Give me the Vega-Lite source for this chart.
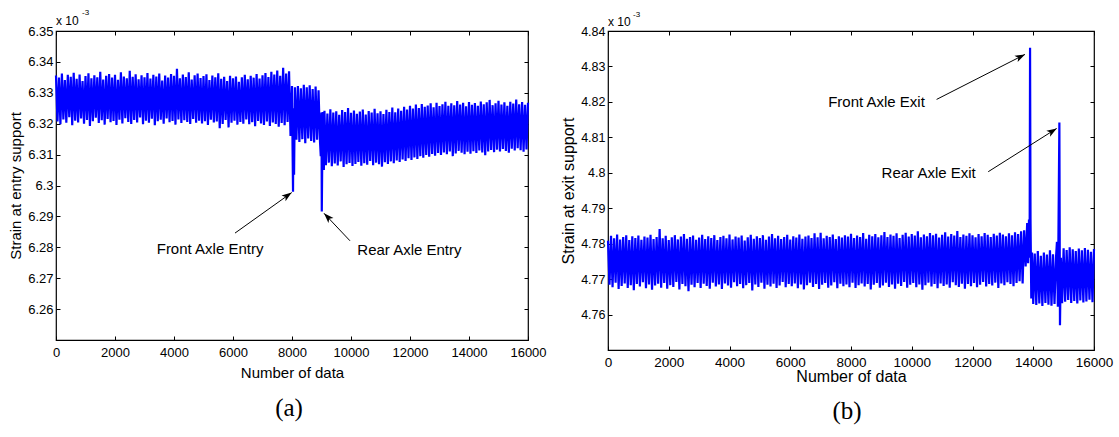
{
"$schema": "https://vega.github.io/schema/vega-lite/v6.json",
"background": "white",
"padding": {"left": 8, "top": 8, "right": 5, "bottom": 5},
"config": {
  "font": "Liberation Sans",
  "view": {"stroke": "black", "strokeWidth": 1.2},
  "axis": {"domain": false, "grid": false, "tickColor": "black", "tickSize": -4, "tickWidth": 1, "labelColor": "black", "titleColor": "black", "titleFontWeight": "normal", "labelFlush": false, "labelOverlap": false}
},
"spacing": 80,
"bounds": "flush",
"datasets": {
"a": [
{"n":0,"v":6.3356},{"n":50,"v":6.3207},{"n":100,"v":6.3349},{"n":150,"v":6.3198},{"n":200,"v":6.3362},{"n":250,"v":6.3214},{"n":300,"v":6.3341},{"n":350,"v":6.3203},{"n":400,"v":6.3358},{"n":450,"v":6.3221},
{"n":500,"v":6.3352},{"n":550,"v":6.3195},{"n":600,"v":6.3365},{"n":650,"v":6.3210},{"n":700,"v":6.3345},{"n":750,"v":6.3204},{"n":800,"v":6.3359},{"n":850,"v":6.3217},{"n":900,"v":6.3338},{"n":950,"v":6.3200},
{"n":1000,"v":6.3354},{"n":1050,"v":6.3212},{"n":1100,"v":6.3363},{"n":1150,"v":6.3193},{"n":1200,"v":6.3347},{"n":1250,"v":6.3208},{"n":1300,"v":6.3357},{"n":1350,"v":6.3219},{"n":1400,"v":6.3350},{"n":1450,"v":6.3202},
{"n":1500,"v":6.3368},{"n":1550,"v":6.3211},{"n":1600,"v":6.3343},{"n":1650,"v":6.3197},{"n":1700,"v":6.3355},{"n":1750,"v":6.3215},{"n":1800,"v":6.3361},{"n":1850,"v":6.3205},{"n":1900,"v":6.3349},{"n":1950,"v":6.3209},
{"n":2000,"v":6.3358},{"n":2050,"v":6.3196},{"n":2100,"v":6.3342},{"n":2150,"v":6.3213},{"n":2200,"v":6.3366},{"n":2250,"v":6.3201},{"n":2300,"v":6.3353},{"n":2350,"v":6.3218},{"n":2400,"v":6.3347},{"n":2450,"v":6.3206},
{"n":2500,"v":6.3371},{"n":2550,"v":6.3199},{"n":2600,"v":6.3352},{"n":2650,"v":6.3212},{"n":2700,"v":6.3360},{"n":2750,"v":6.3204},{"n":2800,"v":6.3344},{"n":2850,"v":6.3220},{"n":2900,"v":6.3357},{"n":2950,"v":6.3198},
{"n":3000,"v":6.3350},{"n":3050,"v":6.3210},{"n":3100,"v":6.3364},{"n":3150,"v":6.3203},{"n":3200,"v":6.3346},{"n":3250,"v":6.3216},{"n":3300,"v":6.3358},{"n":3350,"v":6.3195},{"n":3400,"v":6.3353},{"n":3450,"v":6.3208},
{"n":3500,"v":6.3362},{"n":3550,"v":6.3213},{"n":3600,"v":6.3340},{"n":3650,"v":6.3200},{"n":3700,"v":6.3356},{"n":3750,"v":6.3217},{"n":3800,"v":6.3349},{"n":3850,"v":6.3205},{"n":3900,"v":6.3361},{"n":3950,"v":6.3209},
{"n":4000,"v":6.3355},{"n":4050,"v":6.3197},{"n":4100,"v":6.3378},{"n":4150,"v":6.3214},{"n":4200,"v":6.3347},{"n":4250,"v":6.3202},{"n":4300,"v":6.3359},{"n":4350,"v":6.3211},{"n":4400,"v":6.3351},{"n":4450,"v":6.3206},
{"n":4500,"v":6.3366},{"n":4550,"v":6.3199},{"n":4600,"v":6.3343},{"n":4650,"v":6.3215},{"n":4700,"v":6.3357},{"n":4750,"v":6.3203},{"n":4800,"v":6.3362},{"n":4850,"v":6.3210},{"n":4900,"v":6.3348},{"n":4950,"v":6.3201},
{"n":5000,"v":6.3354},{"n":5050,"v":6.3208},{"n":5100,"v":6.3360},{"n":5150,"v":6.3196},{"n":5200,"v":6.3341},{"n":5250,"v":6.3213},{"n":5300,"v":6.3356},{"n":5350,"v":6.3204},{"n":5400,"v":6.3350},{"n":5450,"v":6.3207},
{"n":5500,"v":6.3363},{"n":5550,"v":6.3185},{"n":5600,"v":6.3345},{"n":5650,"v":6.3199},{"n":5700,"v":6.3352},{"n":5750,"v":6.3212},{"n":5800,"v":6.3338},{"n":5850,"v":6.3188},{"n":5900,"v":6.3355},{"n":5950,"v":6.3203},
{"n":6000,"v":6.3347},{"n":6050,"v":6.3210},{"n":6100,"v":6.3353},{"n":6150,"v":6.3197},{"n":6200,"v":6.3336},{"n":6250,"v":6.3206},{"n":6300,"v":6.3350},{"n":6350,"v":6.3200},{"n":6400,"v":6.3358},{"n":6450,"v":6.3214},
{"n":6500,"v":6.3344},{"n":6550,"v":6.3198},{"n":6600,"v":6.3355},{"n":6650,"v":6.3205},{"n":6700,"v":6.3349},{"n":6750,"v":6.3192},{"n":6800,"v":6.3361},{"n":6850,"v":6.3209},{"n":6900,"v":6.3346},{"n":6950,"v":6.3201},
{"n":7000,"v":6.3357},{"n":7050,"v":6.3196},{"n":7100,"v":6.3364},{"n":7150,"v":6.3207},{"n":7200,"v":6.3351},{"n":7250,"v":6.3193},{"n":7300,"v":6.3368},{"n":7350,"v":6.3204},{"n":7400,"v":6.3359},{"n":7450,"v":6.3199},
{"n":7500,"v":6.3372},{"n":7550,"v":6.3190},{"n":7600,"v":6.3355},{"n":7650,"v":6.3202},{"n":7700,"v":6.3381},{"n":7750,"v":6.3195},{"n":7800,"v":6.3362},{"n":7850,"v":6.3206},{"n":7900,"v":6.3370},
{"n":7950,"v":6.3160},{"n":8000,"v":6.3322},{"n":8020,"v":6.3115},{"n":8035,"v":6.2980},{"n":8050,"v":6.3250},{"n":8070,"v":6.3035},{"n":8100,"v":6.3318},{"n":8150,"v":6.3148},
{"n":8200,"v":6.3322},{"n":8250,"v":6.3141},{"n":8300,"v":6.3315},{"n":8350,"v":6.3150},{"n":8400,"v":6.3326},{"n":8450,"v":6.3137},{"n":8500,"v":6.3318},{"n":8550,"v":6.3152},{"n":8600,"v":6.3324},{"n":8650,"v":6.3144},
{"n":8700,"v":6.3312},{"n":8750,"v":6.3139},{"n":8800,"v":6.3320},{"n":8850,"v":6.3148},{"n":8900,"v":6.3308},{"n":8950,"v":6.3140},{"n":8975,"v":6.3095},{"n":9000,"v":6.3236},{"n":9010,"v":6.2916},{"n":9040,"v":6.3238},{"n":9080,"v":6.3050},
{"n":9100,"v":6.3242},{"n":9150,"v":6.3066},{"n":9200,"v":6.3233},{"n":9250,"v":6.3074},{"n":9300,"v":6.3247},{"n":9350,"v":6.3062},{"n":9400,"v":6.3236},{"n":9450,"v":6.3071},{"n":9500,"v":6.3240},{"n":9550,"v":6.3065},
{"n":9600,"v":6.3229},{"n":9650,"v":6.3078},{"n":9700,"v":6.3244},{"n":9750,"v":6.3060},{"n":9800,"v":6.3238},{"n":9850,"v":6.3069},{"n":9900,"v":6.3251},{"n":9950,"v":6.3073},{"n":10000,"v":6.3235},{"n":10050,"v":6.3063},
{"n":10100,"v":6.3243},{"n":10150,"v":6.3070},{"n":10200,"v":6.3232},{"n":10250,"v":6.3076},{"n":10300,"v":6.3239},{"n":10350,"v":6.3064},{"n":10400,"v":6.3246},{"n":10450,"v":6.3072},{"n":10500,"v":6.3230},{"n":10550,"v":6.3067},
{"n":10600,"v":6.3241},{"n":10650,"v":6.3079},{"n":10700,"v":6.3236},{"n":10750,"v":6.3066},{"n":10800,"v":6.3248},{"n":10850,"v":6.3074},{"n":10900,"v":6.3234},{"n":10950,"v":6.3069},{"n":11000,"v":6.3240},{"n":11050,"v":6.3061},
{"n":11100,"v":6.3231},{"n":11150,"v":6.3075},{"n":11200,"v":6.3245},{"n":11250,"v":6.3070},{"n":11300,"v":6.3238},{"n":11350,"v":6.3078},{"n":11400,"v":6.3252},{"n":11450,"v":6.3072},{"n":11500,"v":6.3237},{"n":11550,"v":6.3081},
{"n":11600,"v":6.3249},{"n":11650,"v":6.3076},{"n":11700,"v":6.3242},{"n":11750,"v":6.3084},{"n":11800,"v":6.3255},{"n":11850,"v":6.3079},{"n":11900,"v":6.3246},{"n":11950,"v":6.3088},{"n":12000,"v":6.3258},{"n":12050,"v":6.3083},
{"n":12100,"v":6.3249},{"n":12150,"v":6.3091},{"n":12200,"v":6.3262},{"n":12250,"v":6.3086},{"n":12300,"v":6.3251},{"n":12350,"v":6.3095},{"n":12400,"v":6.3264},{"n":12450,"v":6.3090},{"n":12500,"v":6.3255},{"n":12550,"v":6.3099},
{"n":12600,"v":6.3259},{"n":12650,"v":6.3093},{"n":12700,"v":6.3266},{"n":12750,"v":6.3102},{"n":12800,"v":6.3253},{"n":12850,"v":6.3096},{"n":12900,"v":6.3268},{"n":12950,"v":6.3105},{"n":13000,"v":6.3257},{"n":13050,"v":6.3099},
{"n":13100,"v":6.3263},{"n":13150,"v":6.3107},{"n":13200,"v":6.3271},{"n":13250,"v":6.3101},{"n":13300,"v":6.3258},{"n":13350,"v":6.3110},{"n":13400,"v":6.3266},{"n":13450,"v":6.3095},{"n":13500,"v":6.3260},{"n":13550,"v":6.3104},
{"n":13600,"v":6.3273},{"n":13650,"v":6.3112},{"n":13700,"v":6.3262},{"n":13750,"v":6.3106},{"n":13800,"v":6.3268},{"n":13850,"v":6.3101},{"n":13900,"v":6.3256},{"n":13950,"v":6.3109},{"n":14000,"v":6.3270},{"n":14050,"v":6.3103},
{"n":14100,"v":6.3261},{"n":14150,"v":6.3111},{"n":14200,"v":6.3267},{"n":14250,"v":6.3105},{"n":14300,"v":6.3258},{"n":14350,"v":6.3113},{"n":14400,"v":6.3272},{"n":14450,"v":6.3107},{"n":14500,"v":6.3263},{"n":14550,"v":6.3098},
{"n":14600,"v":6.3269},{"n":14650,"v":6.3110},{"n":14700,"v":6.3277},{"n":14750,"v":6.3115},{"n":14800,"v":6.3260},{"n":14850,"v":6.3108},{"n":14900,"v":6.3266},{"n":14950,"v":6.3116},{"n":15000,"v":6.3274},{"n":15050,"v":6.3110},
{"n":15100,"v":6.3262},{"n":15150,"v":6.3118},{"n":15200,"v":6.3269},{"n":15250,"v":6.3112},{"n":15300,"v":6.3258},{"n":15350,"v":6.3106},{"n":15400,"v":6.3271},{"n":15450,"v":6.3119},{"n":15500,"v":6.3265},{"n":15550,"v":6.3113},
{"n":15600,"v":6.3278},{"n":15650,"v":6.3121},{"n":15700,"v":6.3263},{"n":15750,"v":6.3114},{"n":15800,"v":6.3270},{"n":15850,"v":6.3109},{"n":15900,"v":6.3261},{"n":15950,"v":6.3117},{"n":16000,"v":6.3268}
],
"b": [
{"n":0,"v":4.7808},{"n":50,"v":4.7684},{"n":100,"v":4.7822},{"n":150,"v":4.7677},{"n":200,"v":4.7815},{"n":250,"v":4.7690},{"n":300,"v":4.7826},{"n":350,"v":4.7672},{"n":400,"v":4.7812},{"n":450,"v":4.7681},
{"n":500,"v":4.7819},{"n":550,"v":4.7688},{"n":600,"v":4.7824},{"n":650,"v":4.7675},{"n":700,"v":4.7810},{"n":750,"v":4.7683},{"n":800,"v":4.7821},{"n":850,"v":4.7669},{"n":900,"v":4.7816},{"n":950,"v":4.7686},
{"n":1000,"v":4.7823},{"n":1050,"v":4.7679},{"n":1100,"v":4.7811},{"n":1150,"v":4.7691},{"n":1200,"v":4.7820},{"n":1250,"v":4.7674},{"n":1300,"v":4.7817},{"n":1350,"v":4.7685},{"n":1400,"v":4.7825},{"n":1450,"v":4.7670},
{"n":1500,"v":4.7813},{"n":1550,"v":4.7682},{"n":1600,"v":4.7819},{"n":1650,"v":4.7687},{"n":1700,"v":4.7841},{"n":1750,"v":4.7676},{"n":1800,"v":4.7815},{"n":1850,"v":4.7689},{"n":1900,"v":4.7822},{"n":1950,"v":4.7673},
{"n":2000,"v":4.7810},{"n":2050,"v":4.7683},{"n":2100,"v":4.7818},{"n":2150,"v":4.7678},{"n":2200,"v":4.7824},{"n":2250,"v":4.7692},{"n":2300,"v":4.7812},{"n":2350,"v":4.7671},{"n":2400,"v":4.7820},{"n":2450,"v":4.7686},
{"n":2500,"v":4.7827},{"n":2550,"v":4.7680},{"n":2600,"v":4.7814},{"n":2650,"v":4.7666},{"n":2700,"v":4.7819},{"n":2750,"v":4.7684},{"n":2800,"v":4.7823},{"n":2850,"v":4.7677},{"n":2900,"v":4.7811},{"n":2950,"v":4.7689},
{"n":3000,"v":4.7817},{"n":3050,"v":4.7675},{"n":3100,"v":4.7825},{"n":3150,"v":4.7687},{"n":3200,"v":4.7813},{"n":3250,"v":4.7681},{"n":3300,"v":4.7821},{"n":3350,"v":4.7673},{"n":3400,"v":4.7816},{"n":3450,"v":4.7690},
{"n":3500,"v":4.7824},{"n":3550,"v":4.7679},{"n":3600,"v":4.7810},{"n":3650,"v":4.7685},{"n":3700,"v":4.7819},{"n":3750,"v":4.7672},{"n":3800,"v":4.7822},{"n":3850,"v":4.7688},{"n":3900,"v":4.7815},{"n":3950,"v":4.7682},
{"n":4000,"v":4.7826},{"n":4050,"v":4.7676},{"n":4100,"v":4.7812},{"n":4150,"v":4.7691},{"n":4200,"v":4.7820},{"n":4250,"v":4.7680},{"n":4300,"v":4.7817},{"n":4350,"v":4.7686},{"n":4400,"v":4.7823},{"n":4450,"v":4.7674},
{"n":4500,"v":4.7809},{"n":4550,"v":4.7683},{"n":4600,"v":4.7818},{"n":4650,"v":4.7689},{"n":4700,"v":4.7825},{"n":4750,"v":4.7668},{"n":4800,"v":4.7814},{"n":4850,"v":4.7685},{"n":4900,"v":4.7821},{"n":4950,"v":4.7678},
{"n":5000,"v":4.7816},{"n":5050,"v":4.7690},{"n":5100,"v":4.7824},{"n":5150,"v":4.7673},{"n":5200,"v":4.7811},{"n":5250,"v":4.7684},{"n":5300,"v":4.7820},{"n":5350,"v":4.7679},{"n":5400,"v":4.7827},{"n":5450,"v":4.7687},
{"n":5500,"v":4.7815},{"n":5550,"v":4.7675},{"n":5600,"v":4.7822},{"n":5650,"v":4.7682},{"n":5700,"v":4.7813},{"n":5750,"v":4.7692},{"n":5800,"v":4.7819},{"n":5850,"v":4.7677},{"n":5900,"v":4.7825},{"n":5950,"v":4.7686},
{"n":6000,"v":4.7812},{"n":6050,"v":4.7680},{"n":6100,"v":4.7821},{"n":6150,"v":4.7688},{"n":6200,"v":4.7817},{"n":6250,"v":4.7674},{"n":6300,"v":4.7826},{"n":6350,"v":4.7685},{"n":6400,"v":4.7814},{"n":6450,"v":4.7671},
{"n":6500,"v":4.7820},{"n":6550,"v":4.7683},{"n":6600,"v":4.7823},{"n":6650,"v":4.7690},{"n":6700,"v":4.7816},{"n":6750,"v":4.7678},{"n":6800,"v":4.7829},{"n":6850,"v":4.7686},{"n":6900,"v":4.7818},{"n":6950,"v":4.7672},
{"n":7000,"v":4.7831},{"n":7050,"v":4.7684},{"n":7100,"v":4.7815},{"n":7150,"v":4.7689},{"n":7200,"v":4.7822},{"n":7250,"v":4.7676},{"n":7300,"v":4.7819},{"n":7350,"v":4.7682},{"n":7400,"v":4.7826},{"n":7450,"v":4.7691},
{"n":7500,"v":4.7813},{"n":7550,"v":4.7674},{"n":7600,"v":4.7821},{"n":7650,"v":4.7687},{"n":7700,"v":4.7817},{"n":7750,"v":4.7680},{"n":7800,"v":4.7824},{"n":7850,"v":4.7685},{"n":7900,"v":4.7820},{"n":7950,"v":4.7677},
{"n":8000,"v":4.7828},{"n":8050,"v":4.7690},{"n":8100,"v":4.7816},{"n":8150,"v":4.7675},{"n":8200,"v":4.7823},{"n":8250,"v":4.7683},{"n":8300,"v":4.7819},{"n":8350,"v":4.7688},{"n":8400,"v":4.7830},{"n":8450,"v":4.7679},
{"n":8500,"v":4.7814},{"n":8550,"v":4.7686},{"n":8600,"v":4.7825},{"n":8650,"v":4.7671},{"n":8700,"v":4.7821},{"n":8750,"v":4.7684},{"n":8800,"v":4.7827},{"n":8850,"v":4.7689},{"n":8900,"v":4.7818},{"n":8950,"v":4.7676},
{"n":9000,"v":4.7824},{"n":9050,"v":4.7682},{"n":9100,"v":4.7833},{"n":9150,"v":4.7690},{"n":9200,"v":4.7819},{"n":9250,"v":4.7678},{"n":9300,"v":4.7826},{"n":9350,"v":4.7685},{"n":9400,"v":4.7822},{"n":9450,"v":4.7673},
{"n":9500,"v":4.7829},{"n":9550,"v":4.7687},{"n":9600,"v":4.7816},{"n":9650,"v":4.7681},{"n":9700,"v":4.7825},{"n":9750,"v":4.7692},{"n":9800,"v":4.7831},{"n":9850,"v":4.7676},{"n":9900,"v":4.7820},{"n":9950,"v":4.7684},
{"n":10000,"v":4.7827},{"n":10050,"v":4.7689},{"n":10100,"v":4.7823},{"n":10150,"v":4.7677},{"n":10200,"v":4.7835},{"n":10250,"v":4.7685},{"n":10300,"v":4.7818},{"n":10350,"v":4.7670},{"n":10400,"v":4.7826},{"n":10450,"v":4.7683},
{"n":10500,"v":4.7821},{"n":10550,"v":4.7690},{"n":10600,"v":4.7830},{"n":10650,"v":4.7679},{"n":10700,"v":4.7824},{"n":10750,"v":4.7686},{"n":10800,"v":4.7828},{"n":10850,"v":4.7674},{"n":10900,"v":4.7817},{"n":10950,"v":4.7688},
{"n":11000,"v":4.7825},{"n":11050,"v":4.7681},{"n":11100,"v":4.7832},{"n":11150,"v":4.7685},{"n":11200,"v":4.7820},{"n":11250,"v":4.7676},{"n":11300,"v":4.7827},{"n":11350,"v":4.7691},{"n":11400,"v":4.7823},{"n":11450,"v":4.7683},
{"n":11500,"v":4.7836},{"n":11550,"v":4.7678},{"n":11600,"v":4.7819},{"n":11650,"v":4.7687},{"n":11700,"v":4.7826},{"n":11750,"v":4.7673},{"n":11800,"v":4.7822},{"n":11850,"v":4.7686},{"n":11900,"v":4.7829},{"n":11950,"v":4.7680},
{"n":12000,"v":4.7824},{"n":12050,"v":4.7689},{"n":12100,"v":4.7818},{"n":12150,"v":4.7677},{"n":12200,"v":4.7827},{"n":12250,"v":4.7684},{"n":12300,"v":4.7821},{"n":12350,"v":4.7692},{"n":12400,"v":4.7830},{"n":12450,"v":4.7679},
{"n":12500,"v":4.7825},{"n":12550,"v":4.7686},{"n":12600,"v":4.7819},{"n":12650,"v":4.7682},{"n":12700,"v":4.7828},{"n":12750,"v":4.7690},{"n":12800,"v":4.7823},{"n":12850,"v":4.7675},{"n":12900,"v":4.7831},{"n":12950,"v":4.7688},
{"n":13000,"v":4.7826},{"n":13050,"v":4.7683},{"n":13100,"v":4.7821},{"n":13150,"v":4.7691},{"n":13200,"v":4.7829},{"n":13250,"v":4.7686},{"n":13300,"v":4.7824},{"n":13350,"v":4.7680},{"n":13400,"v":4.7832},{"n":13450,"v":4.7689},
{"n":13500,"v":4.7827},{"n":13550,"v":4.7694},{"n":13600,"v":4.7835},{"n":13650,"v":4.7688},{"n":13700,"v":4.7838},{"n":13750,"v":4.7736},
{"n":13800,"v":4.7858},{"n":13830,"v":4.7745},{"n":13860,"v":4.7868},{"n":13880,"v":4.7760},{"n":13895,"v":4.8353},{"n":13910,"v":4.7870},{"n":13935,"v":4.7645},{"n":13960,"v":4.7775},{"n":14000,"v":4.7630},
{"n":14050,"v":4.7772},{"n":14100,"v":4.7627},{"n":14150,"v":4.7779},{"n":14200,"v":4.7631},{"n":14250,"v":4.7766},{"n":14300,"v":4.7624},{"n":14350,"v":4.7775},{"n":14400,"v":4.7633},{"n":14450,"v":4.7769},{"n":14500,"v":4.7628},
{"n":14550,"v":4.7781},{"n":14600,"v":4.7625},{"n":14650,"v":4.7770},{"n":14700,"v":4.7630},{"n":14750,"v":4.7762},{"n":14780,"v":4.7805},{"n":14810,"v":4.7622},{"n":14860,"v":4.8142},{"n":14880,"v":4.7570},{"n":14910,"v":4.7760},{"n":14950,"v":4.7632},
{"n":15000,"v":4.7787},{"n":15050,"v":4.7636},{"n":15100,"v":4.7782},{"n":15150,"v":4.7641},{"n":15200,"v":4.7790},{"n":15250,"v":4.7633},{"n":15300,"v":4.7784},{"n":15350,"v":4.7638},{"n":15400,"v":4.7779},{"n":15450,"v":4.7631},
{"n":15500,"v":4.7786},{"n":15550,"v":4.7640},{"n":15600,"v":4.7781},{"n":15650,"v":4.7634},{"n":15700,"v":4.7788},{"n":15750,"v":4.7637},{"n":15800,"v":4.7783},{"n":15850,"v":4.7642},{"n":15900,"v":4.7777},{"n":15950,"v":4.7635},{"n":16000,"v":4.7785}
],
"annA": [
{"label":"Front Axle Entry","tx":3414,"ty":6.2794,"x1":6068,"y1":6.2846,"x2":7990,"y2":6.2977},
{"label":"Rear Axle Entry","tx":10214,"ty":6.2791,"x1":9966,"y1":6.2821,"x2":9085,"y2":6.2910}
],
"annB": [
{"label":"Front Axle Exit","tx":7247,"ty":4.8200,"x1":10818,"y1":4.8207,"x2":13727,"y2":4.8334},
{"label":"Rear Axle Exit","tx":9006,"ty":4.7998,"x1":12518,"y1":4.8003,"x2":14771,"y2":4.8125}
]
},
"hconcat": [
{
 "width": 472, "height": 309,
 "title": {"text": "(a)", "orient": "bottom", "frame": "group", "offset": 16, "dx": -3, "font": "Liberation Serif", "fontSize": 25, "fontWeight": "normal", "color": "black"},
 "layer": [
  {"data": {"name": "a"},
   "mark": {"type": "line", "color": "#0000ff", "strokeWidth": 2.2, "strokeJoin": "bevel"},
   "encoding": {
    "x": {"field": "n", "type": "quantitative", "scale": {"domain": [0, 16000], "nice": false},
          "axis": {"orient": "bottom", "values": [0,2000,4000,6000,8000,10000,12000,14000,16000], "format": "d", "labelFontSize": 13, "labelPadding": 10, "title": "Number of data", "titleFontSize": 15, "titlePadding": 6}},
    "y": {"field": "v", "type": "quantitative", "scale": {"domain": [6.25, 6.35], "nice": false, "zero": false},
          "axis": {"orient": "left", "values": [6.26,6.27,6.28,6.29,6.3,6.31,6.32,6.33,6.34,6.35], "format": ".3~r", "labelFontSize": 13, "labelPadding": 7, "title": "Strain at entry support", "titleFontSize": 15, "titlePadding": 4}}
   }},
  {"data": {"name": "annA"},
   "mark": {"type": "rule", "color": "black", "strokeWidth": 1},
   "encoding": {
    "x": {"field": "x1", "type": "quantitative", "scale": {"domain": [0, 16000], "nice": false},
          "axis": {"orient": "top", "values": [0,2000,4000,6000,8000,10000,12000,14000,16000], "labels": false, "title": null}},
    "y": {"field": "y1", "type": "quantitative", "scale": {"domain": [6.25, 6.35], "nice": false, "zero": false},
          "axis": {"orient": "right", "values": [6.26,6.27,6.28,6.29,6.3,6.31,6.32,6.33,6.34,6.35], "labels": false, "title": null}},
    "x2": {"field": "x2"}, "y2": {"field": "y2"}
   }},
  {"data": {"name": "annA"},
   "mark": {"type": "text", "align": "left", "baseline": "middle", "fontSize": 15, "color": "black"},
   "encoding": {
    "x": {"field": "tx", "type": "quantitative", "axis": null},
    "y": {"field": "ty", "type": "quantitative", "axis": null},
    "text": {"field": "label"}
   }},
  {"data": {"name": "annA"},
   "transform": [{"filter": "datum.label === 'Front Axle Entry'"}],
   "mark": {"type": "point", "shape": "M0,0L-0.35,1L0,0.75L0.35,1Z", "filled": true, "color": "black", "opacity": 1, "size": 400, "angle": 55},
   "encoding": {"x": {"field": "x2", "type": "quantitative", "axis": null}, "y": {"field": "y2", "type": "quantitative", "axis": null}}},
  {"data": {"name": "annA"},
   "transform": [{"filter": "datum.label === 'Rear Axle Entry'"}],
   "mark": {"type": "point", "shape": "M0,0L-0.35,1L0,0.75L0.35,1Z", "filled": true, "color": "black", "opacity": 1, "size": 400, "angle": 316},
   "encoding": {"x": {"field": "x2", "type": "quantitative", "axis": null}, "y": {"field": "y2", "type": "quantitative", "axis": null}}},
  {"data": {"values": [{}]},
   "mark": {"type": "text", "align": "left", "baseline": "alphabetic", "fontSize": 12, "dy": -6, "color": "black"},
   "encoding": {"x": {"datum": 0, "type": "quantitative", "axis": null}, "y": {"datum": 6.35, "type": "quantitative", "axis": null}, "text": {"value": "x 10"}}},
  {"data": {"values": [{}]},
   "mark": {"type": "text", "align": "left", "baseline": "alphabetic", "fontSize": 8, "dx": 26, "dy": -16, "color": "black"},
   "encoding": {"x": {"datum": 0, "type": "quantitative", "axis": null}, "y": {"datum": 6.35, "type": "quantitative", "axis": null}, "text": {"value": "-3"}}}
 ]
},
{
 "width": 486, "height": 319,
 "title": {"text": "(b)", "orient": "bottom", "frame": "group", "offset": 14, "dx": -4, "font": "Liberation Serif", "fontSize": 25, "fontWeight": "normal", "color": "black"},
 "layer": [
  {"data": {"name": "b"},
   "mark": {"type": "line", "color": "#0000ff", "strokeWidth": 2.2, "strokeJoin": "bevel"},
   "encoding": {
    "x": {"field": "n", "type": "quantitative", "scale": {"domain": [0, 16000], "nice": false},
          "axis": {"orient": "bottom", "values": [0,2000,4000,6000,8000,10000,12000,14000,16000], "format": "d", "labelFontSize": 13.5, "labelPadding": 9, "title": "Number of data", "titleFontSize": 16, "titlePadding": 0}},
    "y": {"field": "v", "type": "quantitative", "scale": {"domain": [4.75, 4.84], "nice": false, "zero": false},
          "axis": {"orient": "left", "values": [4.76,4.77,4.78,4.79,4.8,4.81,4.82,4.83,4.84], "format": ".3~r", "labelFontSize": 12.5, "labelPadding": 7, "title": "Strain at exit support", "titleFontSize": 16, "titlePadding": 4}}
   }},
  {"data": {"name": "annB"},
   "mark": {"type": "rule", "color": "black", "strokeWidth": 1},
   "encoding": {
    "x": {"field": "x1", "type": "quantitative", "scale": {"domain": [0, 16000], "nice": false},
          "axis": {"orient": "top", "values": [0,2000,4000,6000,8000,10000,12000,14000,16000], "labels": false, "title": null}},
    "y": {"field": "y1", "type": "quantitative", "scale": {"domain": [4.75, 4.84], "nice": false, "zero": false},
          "axis": {"orient": "right", "values": [4.76,4.77,4.78,4.79,4.8,4.81,4.82,4.83,4.84], "labels": false, "title": null}},
    "x2": {"field": "x2"}, "y2": {"field": "y2"}
   }},
  {"data": {"name": "annB"},
   "mark": {"type": "text", "align": "left", "baseline": "middle", "fontSize": 15, "color": "black"},
   "encoding": {
    "x": {"field": "tx", "type": "quantitative", "axis": null},
    "y": {"field": "ty", "type": "quantitative", "axis": null},
    "text": {"field": "label"}
   }},
  {"data": {"name": "annB"},
   "transform": [{"filter": "datum.label === 'Front Axle Exit'"}],
   "mark": {"type": "point", "shape": "M0,0L-0.35,1L0,0.75L0.35,1Z", "filled": true, "color": "black", "opacity": 1, "size": 400, "angle": 63},
   "encoding": {"x": {"field": "x2", "type": "quantitative", "axis": null}, "y": {"field": "y2", "type": "quantitative", "axis": null}}},
  {"data": {"name": "annB"},
   "transform": [{"filter": "datum.label === 'Rear Axle Exit'"}],
   "mark": {"type": "point", "shape": "M0,0L-0.35,1L0,0.75L0.35,1Z", "filled": true, "color": "black", "opacity": 1, "size": 400, "angle": 58},
   "encoding": {"x": {"field": "x2", "type": "quantitative", "axis": null}, "y": {"field": "y2", "type": "quantitative", "axis": null}}},
  {"data": {"values": [{}]},
   "mark": {"type": "text", "align": "left", "baseline": "alphabetic", "fontSize": 12, "dy": -5, "color": "black"},
   "encoding": {"x": {"datum": 0, "type": "quantitative", "axis": null}, "y": {"datum": 4.84, "type": "quantitative", "axis": null}, "text": {"value": "x 10"}}},
  {"data": {"values": [{}]},
   "mark": {"type": "text", "align": "left", "baseline": "alphabetic", "fontSize": 8, "dx": 25, "dy": -14, "color": "black"},
   "encoding": {"x": {"datum": 0, "type": "quantitative", "axis": null}, "y": {"datum": 4.84, "type": "quantitative", "axis": null}, "text": {"value": "-3"}}}
 ]
}
]
}
